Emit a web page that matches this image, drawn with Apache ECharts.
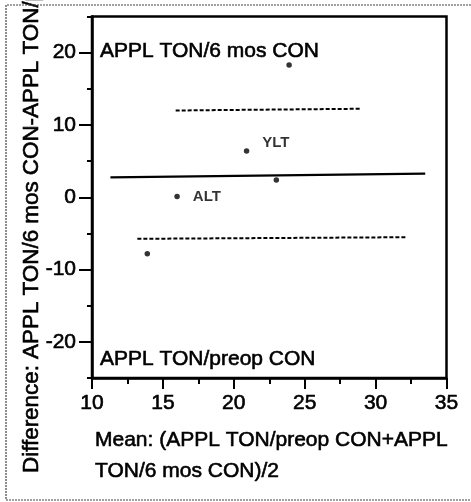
<!DOCTYPE html>
<html>
<head>
<meta charset="utf-8">
<script src="https://cdn.jsdelivr.net/npm/echarts@6/dist/echarts.min.js"></script>
<style>html,body{margin:0;padding:0;background:#fff}#c{width:471px;height:502px}</style>
</head>
<body>
<div id="c"></div>
<script>
// Data
const meanX = [13.9, 16.0, 20.9, 23.0, 23.9];
const diffY = [-7.8, 0.1, 6.4, 2.4, 18.3];
const pointLabels = ['', 'ALT', 'YLT', '', ''];
const meanLineX = [11.3, 33.5];
const meanLineY = [2.75, 3.27];
const upperLimitX = [15.9, 29.0];
const upperLimitY = [12.0, 12.24];
const lowerLimitX = [13.2, 32.1];
const lowerLimitY = [-5.75, -5.53];
const yMajorTicks = [-20, -10, 0, 10, 20];
const yMinorTicks = [-25, -15, -5, 5, 15, 25];
const xTicks = [10, 15, 20, 25, 30, 35];
const xTitle = 'Mean: (APPL TON/preop CON+APPL\nTON/6 mos CON)/2';
const yTitle = 'Difference: APPL TON/6 mos CON-APPL TON/preop CON';
const topText = 'APPL TON/6 mos CON';
const bottomText = 'APPL TON/preop CON';

const FONT = 'Liberation Sans, Arial, Helvetica, sans-serif';
const chart = echarts.init(document.getElementById('c'), null, {renderer: 'canvas'});

const pts = meanX.map((x, i) => ({
  value: [x, diffY[i]],
  label: {
    show: pointLabels[i] !== '',
    formatter: pointLabels[i],
    position: 'right',
    distance: 13,
    offset: pointLabels[i] === 'YLT' ? [0, -8] : [0, 0]
  }
}));

const toPairs = (xs, ys) => xs.map((x, i) => [x, ys[i]]);
const thick = {textBorderColor: '#000', textBorderWidth: 0.6};

chart.setOption({
  animation: false,
  backgroundColor: '#fff',
  grid: {left: 92, right: 24.5, top: 16.5, bottom: 124, show: true, borderColor: '#000', borderWidth: 2.5},
  xAxis: {
    type: 'value', min: 10, max: 35, interval: 5,
    axisLine: {onZero: false, lineStyle: {color: '#000', width: 2.5}},
    axisTick: {show: true, inside: false, length: 11, lineStyle: {color: '#000', width: 2}},
    minorTick: {show: true, splitNumber: 2, length: 6, lineStyle: {color: '#000', width: 2}},
    axisLabel: Object.assign({color: '#000', fontSize: 21, fontFamily: FONT, margin: 15,
      formatter: v => xTicks.includes(v) ? String(v) : ''}, thick),
    splitLine: {show: false}, minorSplitLine: {show: false}
  },
  yAxis: [{
    type: 'value', min: -25, max: 25, position: 'left',
    axisLine: {show: true, onZero: false, lineStyle: {color: '#000', width: 2.5}},
    axisTick: {show: true, inside: false, length: 13, customValues: yMajorTicks, lineStyle: {color: '#000', width: 2}},
    axisLabel: Object.assign({color: '#000', fontSize: 21, fontFamily: FONT, margin: 16, customValues: yMajorTicks}, thick),
    splitLine: {show: false}
  }, {
    type: 'value', min: -25, max: 25, position: 'left', offset: 0,
    axisLine: {show: false, onZero: false},
    axisTick: {show: true, inside: false, length: 5, customValues: yMinorTicks, lineStyle: {color: '#000', width: 2}},
    axisLabel: {show: false},
    splitLine: {show: false}
  }],
  series: [{
    type: 'line', data: toPairs(meanLineX, meanLineY), symbol: 'none',
    lineStyle: {color: '#000', width: 2.2}, z: 2
  }, {
    type: 'line', data: toPairs(upperLimitX, upperLimitY), symbol: 'none',
    lineStyle: {color: '#000', width: 2, type: [4, 2]}, z: 2
  }, {
    type: 'line', data: toPairs(lowerLimitX, lowerLimitY), symbol: 'none',
    lineStyle: {color: '#000', width: 2, type: [4, 2]}, z: 2
  }, {
    type: 'scatter', data: pts, symbol: 'circle', symbolSize: 5.5,
    itemStyle: {color: '#000'},
    label: {color: '#000', fontSize: 15, fontWeight: 'bold', fontFamily: FONT},
    z: 3
  }],
  graphic: [
    {type: 'text', x: 100, y: 51.5, style: Object.assign({text: topText, font: '21px ' + FONT, fill: '#000', textAlign: 'left', textVerticalAlign: 'middle'}, {stroke: '#000', lineWidth: 0.6})},
    {type: 'text', x: 100, y: 359.5, style: {text: bottomText, font: '21px ' + FONT, fill: '#000', stroke: '#000', lineWidth: 0.6, textAlign: 'left', textVerticalAlign: 'middle'}},
    {type: 'text', x: 95, y: 425, style: {text: xTitle, font: '21px ' + FONT, lineHeight: 31, fill: '#000', stroke: '#000', lineWidth: 0.6, textAlign: 'left', textVerticalAlign: 'top'}},
    {type: 'text', x: 31.5, y: 473, rotation: Math.PI / 2, style: {text: yTitle, font: '22.4px ' + FONT, fill: '#000', stroke: '#000', lineWidth: 0.6, textAlign: 'left', textVerticalAlign: 'middle'}},
    {type: 'polyline', shape: {points: [[471, 5], [6, 5], [6, 500], [471, 500]]}, style: {stroke: '#444', lineWidth: 1.2, lineDash: [2, 1], fill: null}}
  ]
});
</script>
</body>
</html>
